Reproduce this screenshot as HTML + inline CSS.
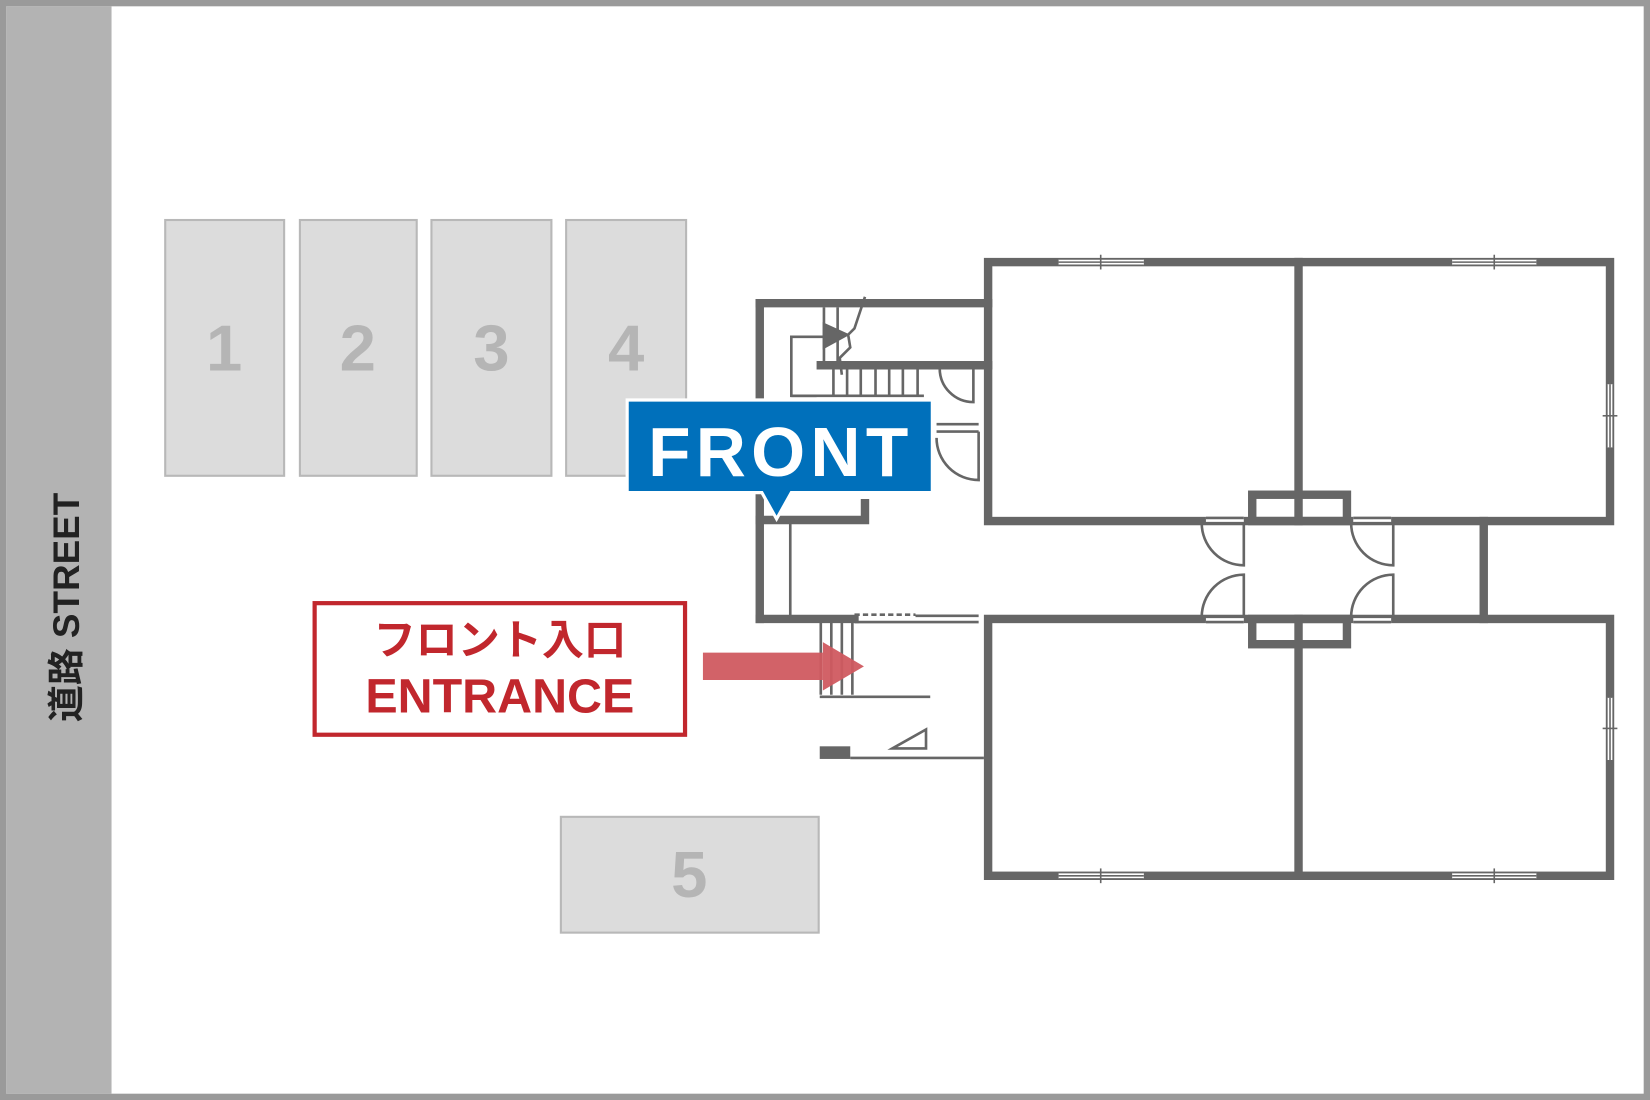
<!DOCTYPE html>
<html><head><meta charset="utf-8"><style>html,body{margin:0;padding:0;background:#fff}svg{display:block}</style></head><body>
<svg width="1650" height="1100" viewBox="0 0 1568 1045" preserveAspectRatio="none" xmlns="http://www.w3.org/2000/svg">
<rect x="0" y="0" width="1568" height="1045" fill="#fff"/>
<rect x="3" y="3" width="1562" height="1039" fill="none" stroke="#9a9a9a" stroke-width="6"/>
<rect x="6" y="6" width="100" height="1033" fill="#b3b3b3"/>
<text transform="translate(75,577) rotate(-90)" text-anchor="middle" font-family="Liberation Sans,Noto Sans CJK JP,sans-serif" font-weight="bold" font-size="35" fill="#222">道路 STREET</text>
<g fill="#dcdcdc" stroke="#b8b8b8" stroke-width="2">
<rect x="157" y="209" width="113" height="243"/><rect x="285" y="209" width="111" height="243"/>
<rect x="410" y="209" width="114" height="243"/><rect x="538" y="209" width="114" height="243"/>
<rect x="533" y="776" width="245" height="110"/></g>
<g fill="#b5b5b5" font-family="Liberation Sans,sans-serif" font-weight="bold" font-size="62" text-anchor="middle">
<text x="213" y="352">1</text><text x="340" y="352">2</text><text x="467" y="352">3</text><text x="595" y="352">4</text><text x="655" y="852">5</text></g>
<g stroke="#666" stroke-width="8" fill="none" stroke-linecap="square">
<rect x="939" y="249" width="591" height="246"/>
<rect x="939" y="588" width="591" height="244"/>
<line x1="1234" y1="249" x2="1234" y2="495"/><line x1="1234" y1="588" x2="1234" y2="832"/>
<line x1="1410" y1="495" x2="1410" y2="588"/>
<rect x="1190" y="470" width="90" height="25"/><rect x="1190" y="588" width="90" height="24"/>
<line x1="722" y1="288" x2="939" y2="288"/><line x1="722" y1="288" x2="722" y2="588"/>
<line x1="722" y1="588" x2="812" y2="588"/>
<polyline points="722,494 822,494 822,478"/>
<line x1="780" y1="347" x2="939" y2="347"/>
</g>
<g stroke="#fff" stroke-width="6"><line x1="1146" y1="493" x2="1182" y2="493"/><line x1="1286" y1="493" x2="1322" y2="493"/>
<line x1="1146" y1="590" x2="1182" y2="590"/><line x1="1286" y1="590" x2="1322" y2="590"/></g>
<g stroke="#666" stroke-width="2.5" fill="none">
<line x1="1146" y1="492" x2="1182" y2="492"/><line x1="1146" y1="497" x2="1182" y2="497"/>
<line x1="1286" y1="492" x2="1322" y2="492"/><line x1="1286" y1="497" x2="1322" y2="497"/>
<line x1="1146" y1="586" x2="1182" y2="586"/><line x1="1146" y1="591" x2="1182" y2="591"/>
<line x1="1286" y1="586" x2="1322" y2="586"/><line x1="1286" y1="591" x2="1322" y2="591"/>
<path d="M1182,497 V537 A40,40 0 0 1 1142,497"/><path d="M1182,586 V546 A40,40 0 0 0 1142,586"/>
<path d="M1324,497 V537 A40,40 0 0 1 1284,497"/><path d="M1324,586 V546 A40,40 0 0 0 1284,586"/>
<line x1="751" y1="494" x2="751" y2="588"/>
<polyline points="776,376 752,376 752,320 790,320"/>
<line x1="752" y1="376" x2="878" y2="376"/>
<line x1="792" y1="347" x2="792" y2="376"/><line x1="805" y1="350" x2="805" y2="376"/><line x1="818" y1="350" x2="818" y2="376"/><line x1="832" y1="350" x2="832" y2="376"/><line x1="845" y1="350" x2="845" y2="376"/><line x1="858" y1="350" x2="858" y2="376"/><line x1="872" y1="350" x2="872" y2="376"/>
<line x1="783" y1="292" x2="783" y2="347"/><line x1="796" y1="292" x2="796" y2="347"/>
<polyline points="822,282 812,312 806,318 808,330 798,340 800,356"/>
<path d="M783,308 L805,318 L783,330 Z" fill="#666"/>
<path d="M925,350 V382 A32,32 0 0 1 893,350"/>
<line x1="890" y1="403" x2="930" y2="403"/><line x1="890" y1="410" x2="930" y2="410"/>
<path d="M930,410 V456 A40,40 0 0 1 890,416"/>
<line x1="780" y1="590" x2="780" y2="660"/><line x1="790" y1="590" x2="790" y2="660"/><line x1="800" y1="590" x2="800" y2="660"/><line x1="810" y1="590" x2="810" y2="660"/>
<line x1="779" y1="662" x2="884" y2="662"/>
<line x1="808" y1="720" x2="935" y2="720"/>
<path d="M848,711 L880,693 L880,711 Z"/>
<line x1="812" y1="584" x2="870" y2="584" stroke-dasharray="5,3"/><line x1="812" y1="591" x2="930" y2="591"/>
<line x1="870" y1="585" x2="930" y2="585"/>
</g>
<rect x="779" y="709" width="29" height="12" fill="#666"/>
<g stroke="#fff" stroke-width="6">
<line x1="1006" y1="249" x2="1087" y2="249"/><line x1="1380" y1="249" x2="1460" y2="249"/>
<line x1="1006" y1="832" x2="1087" y2="832"/><line x1="1380" y1="832" x2="1460" y2="832"/>
<line x1="1530" y1="365" x2="1530" y2="425"/><line x1="1530" y1="663" x2="1530" y2="722"/></g>
<g stroke="#666" stroke-width="1.5">
<line x1="1006" y1="246" x2="1087" y2="246"/><line x1="1006" y1="249" x2="1087" y2="249"/><line x1="1006" y1="252" x2="1087" y2="252"/><line x1="1046" y1="242" x2="1046" y2="256"/>
<line x1="1380" y1="246" x2="1460" y2="246"/><line x1="1380" y1="249" x2="1460" y2="249"/><line x1="1380" y1="252" x2="1460" y2="252"/><line x1="1420" y1="242" x2="1420" y2="256"/>
<line x1="1006" y1="829" x2="1087" y2="829"/><line x1="1006" y1="832" x2="1087" y2="832"/><line x1="1006" y1="835" x2="1087" y2="835"/><line x1="1046" y1="825" x2="1046" y2="839"/>
<line x1="1380" y1="829" x2="1460" y2="829"/><line x1="1380" y1="832" x2="1460" y2="832"/><line x1="1380" y1="835" x2="1460" y2="835"/><line x1="1420" y1="825" x2="1420" y2="839"/>
<line x1="1527" y1="365" x2="1527" y2="425"/><line x1="1530" y1="365" x2="1530" y2="425"/><line x1="1533" y1="365" x2="1533" y2="425"/><line x1="1523" y1="395" x2="1537" y2="395"/>
<line x1="1527" y1="663" x2="1527" y2="722"/><line x1="1530" y1="663" x2="1530" y2="722"/><line x1="1533" y1="663" x2="1533" y2="722"/><line x1="1523" y1="692" x2="1537" y2="692"/>
</g>
<path d="M596,380 H886 V468 H752 L738,493 L724,468 H596 Z" fill="#0070bb" stroke="#fff" stroke-width="3"/>
<text x="742" y="452" text-anchor="middle" font-family="Liberation Sans,sans-serif" font-weight="bold" font-size="66" letter-spacing="5" fill="#fff">FRONT</text>
<rect x="299" y="573" width="352" height="125" fill="#fff" stroke="#c1272d" stroke-width="4"/>
<text x="475" y="622" text-anchor="middle" font-family="Liberation Sans,Noto Sans CJK JP,sans-serif" font-weight="bold" font-size="40" fill="#c1272d">フロント入口</text>
<text x="475" y="677" text-anchor="middle" font-family="Liberation Sans,sans-serif" font-weight="bold" font-size="46" fill="#c1272d">ENTRANCE</text>
<g fill="#d05a60" opacity="0.95"><rect x="668" y="620" width="114" height="26"/><path d="M782,610 L821,633 L782,656 Z"/></g>
</svg>
</body></html>
